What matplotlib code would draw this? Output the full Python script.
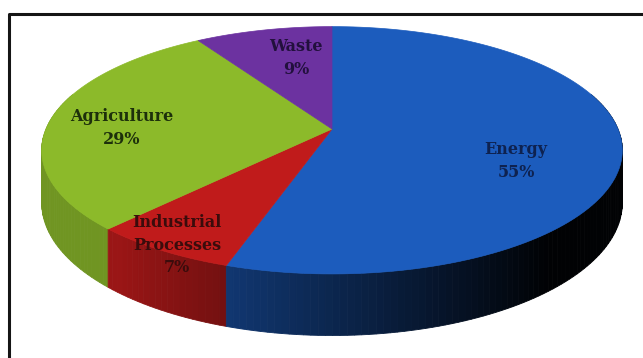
import numpy as np
import matplotlib.pyplot as plt
from matplotlib.patches import Polygon
from matplotlib.colors import to_rgb

sectors = ['Energy', 'Industrial\nProcesses', 'Agriculture', 'Waste']
shares = [55, 7, 29, 9]
top_colors = ['#1c5cbd', '#c01b1b', '#8cba2a', '#6c32a0']
text_colors = ['#0e2250', '#3a0c0c', '#1d300b', '#22103d']
label_xy = [(516, 161), (177, 245), (122, 128), (296, 58)]

# tilted disc seen in perspective (pixel units)
cx, cy = 332, 129
sx, sy = 286, 120
persp = 0.172
depth = 51


def project(phi, h=0.0):
    # phi measured clockwise from the far side of the disc
    u = np.sin(phi)
    v = np.cos(phi)
    w = 1 + persp * v
    return cx + sx * u / w, cy - (sy * v + depth * h) / w


def side_shade(u):
    return np.clip(0.6 - 0.6 * (u + 0.31), 0.02, 0.8)


fig = plt.figure(figsize=(6.43, 3.58), dpi=100)
ax = fig.add_axes([0, 0, 1, 1])
ax.set_xlim(0, 643)
ax.set_ylim(358, 0)
ax.axis('off')

edges = np.radians(np.concatenate([[0], np.cumsum(shares)]) * 3.6)

# outer wall, built from thin strips and painted far to near
strips = []
for i in range(len(shares)):
    steps = np.linspace(edges[i], edges[i + 1], max(int(shares[i] * 3), 4))
    for a0, a1 in zip(steps[:-1], steps[1:]):
        if np.cos(a0) > 0.3 and np.cos(a1) > 0.3:
            continue
        x0t, y0t = project(a0)
        x1t, y1t = project(a1)
        x0b, y0b = project(a0, -1)
        x1b, y1b = project(a1, -1)
        f = side_shade(np.sin((a0 + a1) / 2))
        c = tuple(np.array(to_rgb(top_colors[i])) * f)
        strips.append((np.cos((a0 + a1) / 2),
                       [(x0t, y0t), (x1t, y1t), (x1b, y1b), (x0b, y0b)], c))

strips.sort(key=lambda s: -s[0])
for _, pts, c in strips:
    ax.add_patch(Polygon(pts, closed=True, facecolor=c, edgecolor=c, lw=0.6))

# top face
for i in range(len(shares)):
    arc = np.linspace(edges[i], edges[i + 1], 120)
    xs, ys = project(arc)
    pts = [(cx, cy)] + list(zip(xs, ys))
    ax.add_patch(Polygon(pts, closed=True, facecolor=top_colors[i],
                         edgecolor=top_colors[i], lw=0.5))

for name, share, (lx, ly), tc in zip(sectors, shares, label_xy, text_colors):
    ax.text(lx, ly, f'{name}\n{share}%', ha='center', va='center',
            fontsize=11.5, family='DejaVu Serif', fontweight='bold',
            color=tc, linespacing=1.45)

# chart frame
ax.plot([9, 9, 660], [380, 14, 14], color='#151515', lw=2.2)

fig.savefig('out.png', dpi=100)
